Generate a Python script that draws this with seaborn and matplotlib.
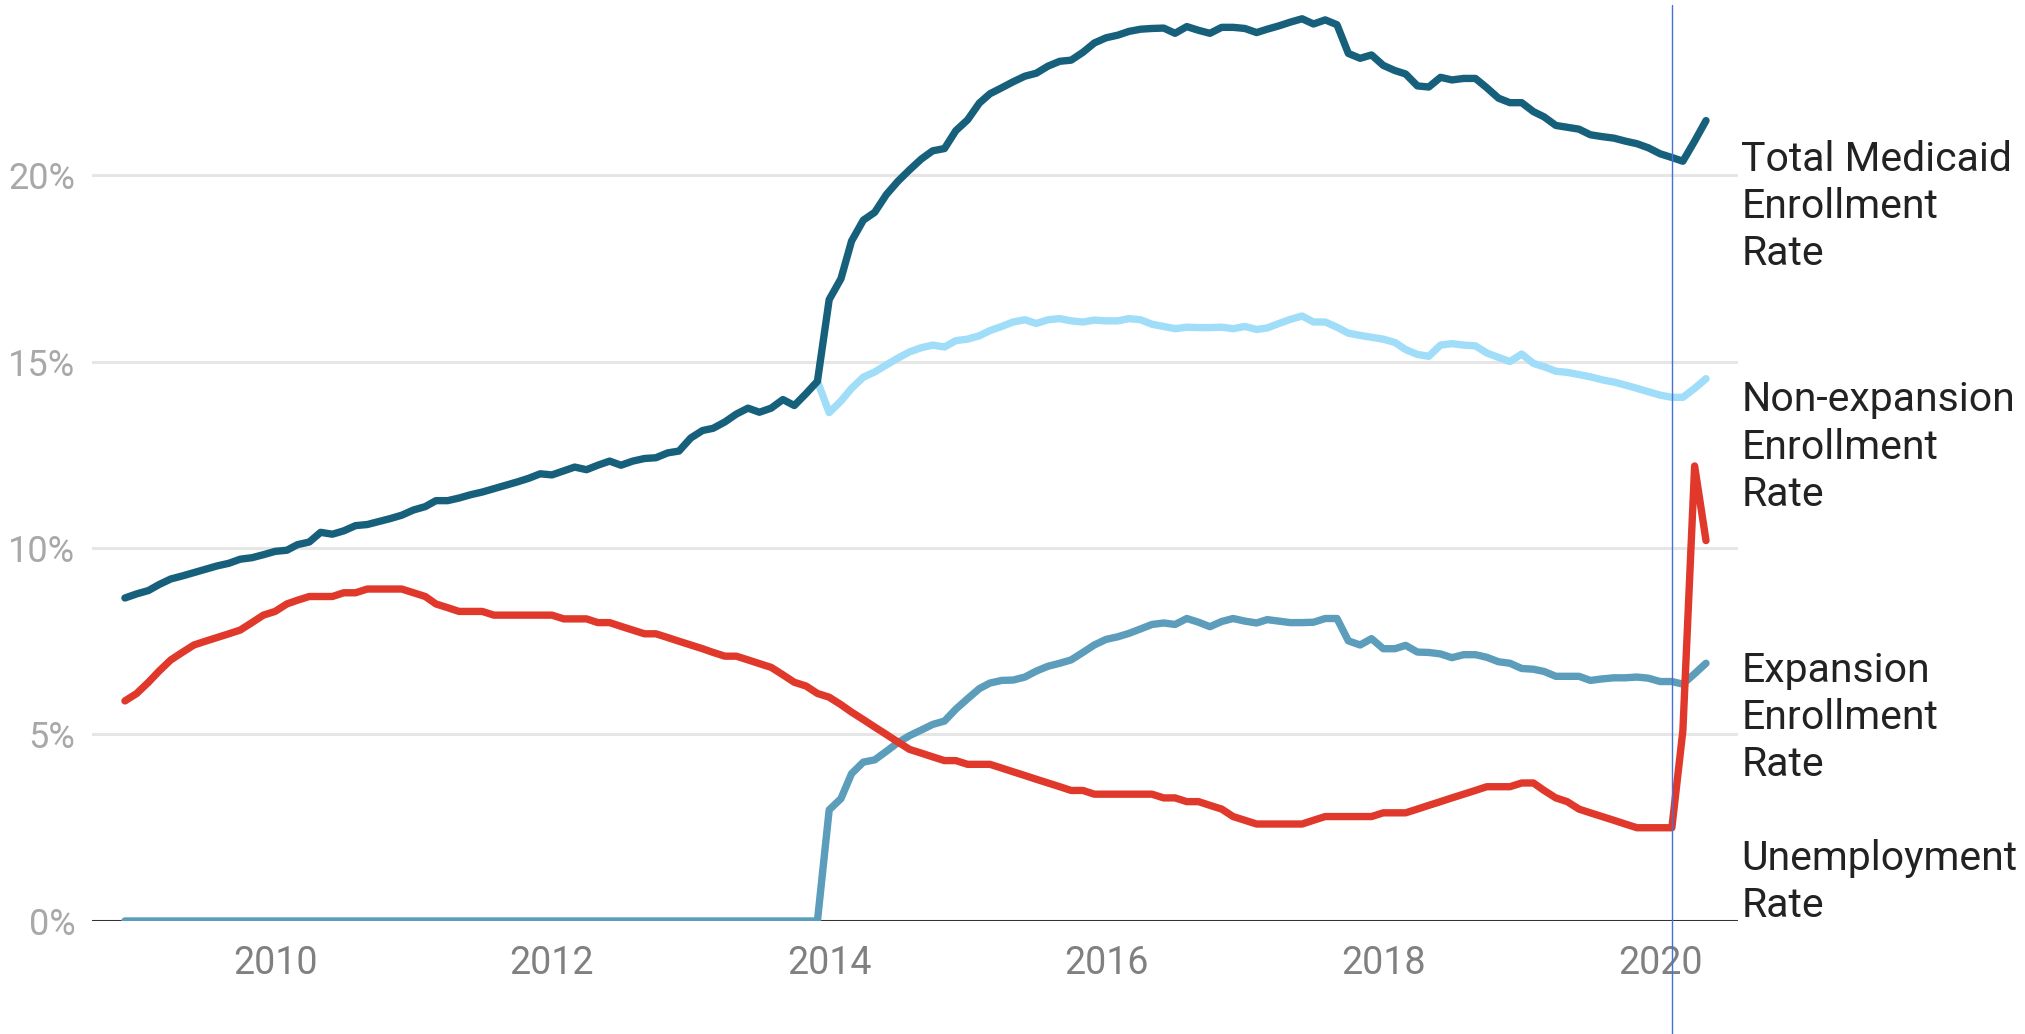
import pandas as pd
import matplotlib
matplotlib.use('Agg')
import matplotlib.pyplot as plt
import matplotlib.dates as mdates
from matplotlib.ticker import FuncFormatter
import seaborn as sns

# monthly rates in percent, Dec 2008 - May 2020
total_rate = [
    8.66, 8.77, 8.86, 9.02, 9.17, 9.25, 9.34, 9.43, 9.52, 9.59, 9.70, 9.74,
    9.82, 9.91, 9.94, 10.09, 10.16, 10.42, 10.37, 10.46, 10.60, 10.63, 10.71, 10.79,
    10.88, 11.02, 11.11, 11.27, 11.27, 11.34, 11.43, 11.50, 11.59, 11.68, 11.77, 11.87,
    11.99, 11.96, 12.07, 12.17, 12.10, 12.22, 12.33, 12.22, 12.33, 12.40,
    12.42, 12.55, 12.60, 12.95, 13.15, 13.21, 13.38, 13.59, 13.75, 13.64, 13.75, 13.98,
    13.82, 14.14, 14.47, 16.66, 17.22, 18.23, 18.79, 19.00, 19.48, 19.83, 20.14, 20.43,
    20.65, 20.71, 21.19, 21.48, 21.93, 22.18, 22.34, 22.50, 22.65, 22.73, 22.92, 23.05,
    23.08, 23.29, 23.54, 23.68, 23.75, 23.85, 23.91, 23.93, 23.94, 23.80, 23.98,
    23.88, 23.80, 23.96, 23.96, 23.93, 23.82, 23.91, 24.00, 24.10, 24.19, 24.05, 24.16,
    24.03, 23.26, 23.13, 23.22, 22.94, 22.80, 22.71, 22.39, 22.36, 22.62, 22.55, 22.59,
    22.59, 22.34, 22.06, 21.94, 21.94, 21.70, 21.56, 21.33, 21.28, 21.23, 21.08, 21.03,
    20.99, 20.91, 20.84, 20.73, 20.57, 20.47, 20.37, 20.91, 21.46,
]

# non-expansion is the same as total before 2014, so it starts at Dec 2013
nonexp_rate = [
    14.47, 13.63, 13.94, 14.28, 14.58, 14.72, 14.91, 15.09, 15.26, 15.37, 15.44, 15.39,
    15.56, 15.60, 15.69, 15.83, 15.94, 16.06, 16.12, 16.02, 16.12, 16.15, 16.09, 16.06,
    16.11, 16.09, 16.09, 16.15, 16.12, 16.00, 15.94, 15.88, 15.92,
    15.91, 15.91, 15.92, 15.88, 15.94, 15.86, 15.90, 16.02, 16.13, 16.22, 16.06, 16.06,
    15.92, 15.76, 15.70, 15.65, 15.60, 15.51, 15.32, 15.19, 15.14, 15.44, 15.48, 15.44,
    15.42, 15.23, 15.11, 15.00, 15.20, 14.95, 14.86, 14.74, 14.71, 14.65, 14.59, 14.51,
    14.45, 14.37, 14.28, 14.19, 14.10, 14.04, 14.04, 14.28, 14.54,
]

expansion_rate = [
    0.0, 0.0, 0.0, 0.0, 0.0, 0.0, 0.0, 0.0, 0.0, 0.0, 0.0, 0.0,
    0.0, 0.0, 0.0, 0.0, 0.0, 0.0, 0.0, 0.0, 0.0, 0.0, 0.0, 0.0,
    0.0, 0.0, 0.0, 0.0, 0.0, 0.0, 0.0, 0.0, 0.0, 0.0, 0.0, 0.0,
    0.0, 0.0, 0.0, 0.0, 0.0, 0.0, 0.0, 0.0, 0.0, 0.0, 0.0, 0.0,
    0.0, 0.0, 0.0, 0.0, 0.0, 0.0, 0.0, 0.0, 0.0, 0.0, 0.0, 0.0, 0.0,
    2.98, 3.28, 3.95, 4.26, 4.32, 4.55, 4.78, 4.97, 5.12, 5.27, 5.36, 5.68,
    5.96, 6.23, 6.38, 6.45, 6.46, 6.54, 6.70, 6.83, 6.91, 7.00, 7.20, 7.40,
    7.55, 7.62, 7.71, 7.83, 7.95, 7.99, 7.95, 8.11,
    8.01, 7.89, 8.03, 8.11, 8.04, 7.99, 8.08, 8.04, 8.00, 8.00, 8.01, 8.11,
    8.11, 7.51, 7.40, 7.57, 7.30, 7.30, 7.39, 7.21, 7.20, 7.16, 7.06, 7.14,
    7.14, 7.07, 6.95, 6.91, 6.77, 6.75, 6.69, 6.56, 6.56, 6.56, 6.45, 6.49,
    6.52, 6.52, 6.54, 6.51, 6.42, 6.42, 6.35, 6.63, 6.91,
]

unemployment_rate = [
    5.9, 6.1, 6.4, 6.7, 7.0, 7.2, 7.4, 7.5, 7.6, 7.7, 7.8, 8.0,
    8.2, 8.3, 8.5, 8.6, 8.7, 8.7, 8.7, 8.8, 8.8, 8.9, 8.9, 8.9,
    8.9, 8.8, 8.7, 8.5, 8.4, 8.3, 8.3, 8.3, 8.2, 8.2, 8.2, 8.2,
    8.2, 8.2, 8.1, 8.1, 8.1, 8.0, 8.0, 7.9, 7.8, 7.7,
    7.7, 7.6, 7.5, 7.4, 7.3, 7.2, 7.1, 7.1, 7.0, 6.9, 6.8, 6.6,
    6.4, 6.3, 6.1, 6.0, 5.8, 5.6, 5.4, 5.2, 5.0, 4.8, 4.6, 4.5,
    4.4, 4.3, 4.3, 4.2, 4.2, 4.2, 4.1, 4.0, 3.9, 3.8, 3.7, 3.6,
    3.5, 3.5, 3.4, 3.4, 3.4, 3.4, 3.4, 3.4, 3.3, 3.3, 3.2,
    3.2, 3.1, 3.0, 2.8, 2.7, 2.6, 2.6, 2.6, 2.6, 2.6, 2.7, 2.8,
    2.8, 2.8, 2.8, 2.8, 2.9, 2.9, 2.9, 3.0, 3.1, 3.2, 3.3, 3.4,
    3.5, 3.6, 3.6, 3.6, 3.7, 3.7, 3.5, 3.3, 3.2, 3.0, 2.9, 2.8,
    2.7, 2.6, 2.5, 2.5, 2.5, 2.5, 5.1, 12.2, 10.2,
]

series_names = ['Non-expansion', 'Expansion', 'Total', 'Unemployment']
series_start = ['2013-12-01', '2008-12-01', '2008-12-01', '2008-12-01']
series_values = [nonexp_rate, expansion_rate, total_rate, unemployment_rate]
line_labels = ['Non-expansion\nEnrollment\nRate', 'Expansion\nEnrollment\nRate',
               'Total Medicaid\nEnrollment\nRate', 'Unemployment\nRate']

palette = {'Non-expansion': '#a0ddf8', 'Expansion': '#5b9dba',
           'Total': '#17607c', 'Unemployment': '#e0392b'}

frames = []
for name, start, vals in zip(series_names, series_start, series_values):
    frames.append(pd.DataFrame({
        'month': pd.date_range(start, periods=len(vals), freq='MS'),
        'rate': vals,
        'series': name,
    }))
df = pd.concat(frames, ignore_index=True)

sns.set_style('white')
plt.rcParams['font.family'] = ['Roboto', 'DejaVu Sans']

fig = plt.figure(figsize=(20.25, 10.34), dpi=100)
ax = fig.add_axes([0.0454, 0.1093, 0.8128, 0.8859])

ax.axhline(0, color='#333333', lw=2.2, zorder=1.5)
sns.lineplot(data=df, x='month', y='rate', hue='series', hue_order=series_names,
             palette=palette, estimator=None, linewidth=5.3, legend=False, ax=ax)
for ln in ax.lines[1:]:
    ln.set_solid_capstyle('round')
    ln.set_solid_joinstyle('round')

ax.axvline(pd.Timestamp('2020-02-01'), ymin=-0.125, ymax=1, color='#4472d6',
           lw=1.0, clip_on=False, zorder=5)

ax.set_xlim(pd.Timestamp('2008-09-05'), pd.Timestamp('2020-07-24'))
ax.set_ylim(0, 24.56)
ax.set_yticks([0, 5, 10, 15, 20])
ax.yaxis.set_major_formatter(FuncFormatter(lambda v, p: f'{v:.0f}%'))
ax.xaxis.set_major_locator(mdates.YearLocator(2))
ax.xaxis.set_major_formatter(mdates.DateFormatter('%Y'))

ax.grid(axis='y', color='#e6e6e6', lw=2.2)
ax.grid(axis='x', visible=False)
ax.set_axisbelow(True)
sns.despine(ax=ax, left=True, bottom=True)
ax.tick_params(axis='y', length=0, pad=12, labelsize=26, labelcolor='#a8a8a8')
ax.tick_params(axis='x', length=0, pad=17, labelsize=27, labelcolor='#808080')
ax.set_xlabel('')
ax.set_ylabel('')

label_y = {'Total': 20.95, 'Non-expansion': 14.5, 'Expansion': 7.25, 'Unemployment': 2.2}
for name, text in zip(series_names, line_labels):
    ax.text(1.002, label_y[name], text, transform=ax.get_yaxis_transform(),
            ha='left', va='top', fontsize=29.5, color='#222222', linespacing=1.27,
            clip_on=False)

fig.savefig('out.png', dpi=100)
